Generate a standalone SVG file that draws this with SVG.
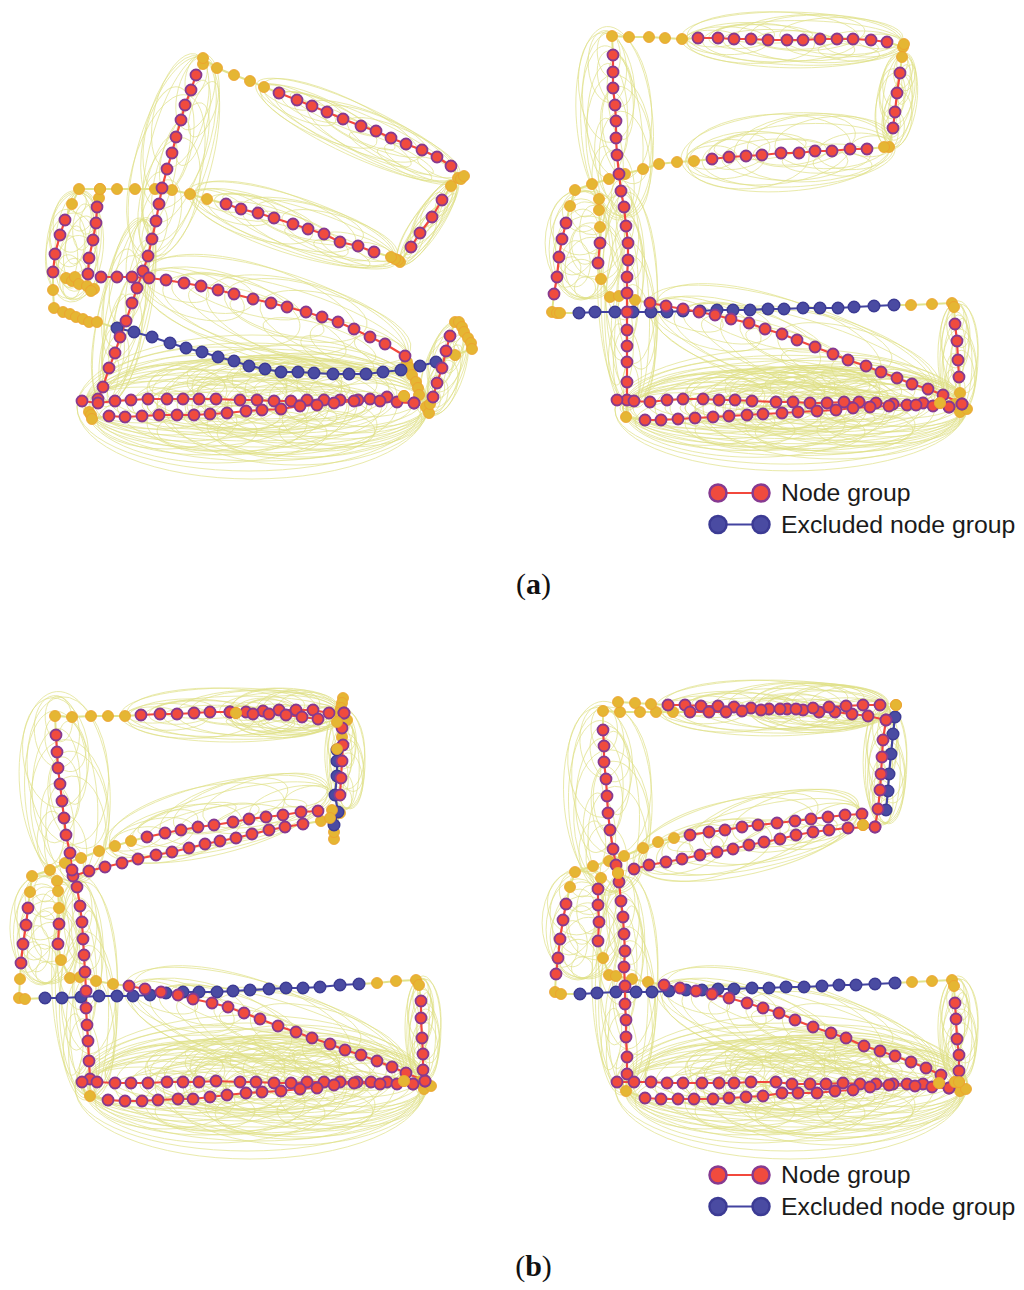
<svg xmlns="http://www.w3.org/2000/svg" width="1024" height="1290" viewBox="0 0 1024 1290">
<style>
.arc ellipse{fill:none;stroke:#e0e184;stroke-width:1;opacity:.68;vector-effect:non-scaling-stroke}
polyline{fill:none}
.lg{stroke:#e2e38c;stroke-width:2}
.lr{stroke:#f2483c;stroke-width:2.2}
.lb{stroke:#4243a0;stroke-width:2.2}
.ng{stroke:none;marker:url(#mg)}
.nr{stroke:none;marker:url(#mr)}
.nb{stroke:none;marker:url(#mb)}
.lt{font:24.800px "Liberation Sans",Arial,sans-serif;fill:#1a1a1a}
.cap{font:30px "Liberation Serif","Times New Roman",serif;fill:#111}
</style>
<defs>
<marker id="mg" markerUnits="userSpaceOnUse" markerWidth="16" markerHeight="16" viewBox="-8 -8 16 16"><circle r="5.500" fill="#e5b633" stroke="#ee9f2e" stroke-width=".8"/></marker>
<marker id="mr" markerUnits="userSpaceOnUse" markerWidth="16" markerHeight="16" viewBox="-8 -8 16 16"><circle r="5.500" fill="#f04b3e" stroke="#863a91" stroke-width="1.800"/></marker>
<marker id="mb" markerUnits="userSpaceOnUse" markerWidth="16" markerHeight="16" viewBox="-8 -8 16 16"><circle r="5.800" fill="#4a4ba2" stroke="#3c3b94" stroke-width="1.400"/></marker>
<g id="lp" class="arc"><ellipse cx="-4" rx="100" ry="30"/><ellipse cx="8" cy="3" rx="92" ry="24"/><ellipse cx="-20" cy="-3" rx="78" ry="27"/><ellipse cx="22" cy="-2" rx="75" ry="26"/><ellipse cx="-40" cy="4" rx="58" ry="22"/><ellipse cx="42" cy="-5" rx="56" ry="20"/><ellipse cx="-62" cy="2" rx="38" ry="15"/><ellipse cx="62" cy="3" rx="36" ry="14"/><ellipse cx="-5" cy="6" rx="60" ry="16" transform="rotate(4)"/><ellipse cx="12" cy="-7" rx="52" ry="19" transform="rotate(-4)"/><ellipse cx="-28" cy="-6" rx="44" ry="10"/><ellipse cx="34" cy="7" rx="42" ry="11"/><ellipse cx="-75" rx="24" ry="9"/><ellipse cx="78" rx="20" ry="8"/><ellipse rx="35" ry="10"/><ellipse cx="-48" cy="-8" rx="30" ry="13" transform="rotate(-6)"/><ellipse cx="50" cy="8" rx="28" ry="9" transform="rotate(5)"/></g>
<g id="bt" class="arc"><ellipse cx="-5" cy="2" rx="175" ry="72"/><ellipse cx="-8" cy="2" rx="172" ry="64"/><ellipse cx="3" rx="170" ry="56"/><ellipse rx="168" ry="48"/><ellipse cx="3" rx="165" ry="42"/><ellipse cx="-5" rx="160" ry="36"/><ellipse cx="40" rx="132" ry="60"/><ellipse cx="50" rx="122" ry="52"/><ellipse cx="60" rx="112" ry="44"/><ellipse cx="70" rx="102" ry="40"/><ellipse cx="85" rx="87" ry="34"/><ellipse cx="100" rx="72" ry="28"/><ellipse cx="115" rx="57" ry="22"/><ellipse cx="-40" rx="132" ry="58"/><ellipse cx="-50" rx="122" ry="50"/><ellipse cx="-60" rx="112" ry="42"/><ellipse cx="-70" rx="102" ry="36"/><ellipse cx="-85" rx="87" ry="30"/><ellipse cx="-100" rx="72" ry="24"/><ellipse cx="-115" rx="57" ry="18"/><ellipse cx="20" rx="120" ry="50"/><ellipse cx="-20" rx="120" ry="46"/><ellipse cx="30" rx="95" ry="38"/><ellipse cx="-30" rx="95" ry="32"/><ellipse cx="10" rx="80" ry="30"/><ellipse cx="-10" rx="70" ry="24"/><ellipse cx="40" rx="70" ry="22"/><ellipse cx="-50" rx="60" ry="20"/><ellipse cx="60" rx="50" ry="16"/><ellipse cx="-70" rx="45" ry="14"/><ellipse cx="20" rx="50" ry="16"/><ellipse rx="100" ry="18"/><ellipse rx="130" ry="25"/><ellipse cx="30" rx="140" ry="32"/><ellipse cx="-30" rx="145" ry="28"/><ellipse cx="-90" cy="-14" rx="60" ry="26"/><ellipse cx="-40" cy="-16" rx="70" ry="30"/><ellipse cx="10" cy="-18" rx="75" ry="32"/><ellipse cx="60" cy="-16" rx="72" ry="30"/><ellipse cx="110" cy="-12" rx="58" ry="24"/><ellipse cx="-20" cy="-22" rx="50" ry="20"/><ellipse cx="30" cy="-24" rx="55" ry="22"/><ellipse cx="80" cy="-20" rx="40" ry="18"/><ellipse cx="-70" cy="-20" rx="38" ry="16"/><ellipse cx="5" cy="-28" rx="35" ry="14"/><ellipse cx="50" cy="-30" rx="32" ry="13"/><ellipse cx="-90" cy="16" rx="70" ry="28"/><ellipse cx="-30" cy="18" rx="80" ry="32"/><ellipse cx="35" cy="20" rx="85" ry="34"/><ellipse cx="95" cy="14" rx="70" ry="28"/><ellipse cx="-50" cy="26" rx="50" ry="20"/><ellipse cx="15" cy="28" rx="55" ry="22"/><ellipse cx="70" cy="26" rx="48" ry="20"/><ellipse cx="-60" cy="-10" rx="90" ry="34"/><ellipse cx="-10" cy="-12" rx="95" ry="36"/><ellipse cx="40" cy="-10" rx="100" ry="38"/><ellipse cx="90" cy="-8" rx="78" ry="30"/><ellipse cx="-30" cy="-32" rx="40" ry="12"/><ellipse cx="25" cy="-36" rx="42" ry="12"/><ellipse cx="70" cy="-30" rx="36" ry="12"/><ellipse cx="-5" cy="-14" rx="55" ry="16"/><ellipse cx="45" cy="-16" rx="48" ry="14"/><ellipse cx="-45" cy="-12" rx="46" ry="14"/><ellipse cx="20" cy="12" rx="60" ry="16"/><ellipse cx="-25" cy="12" rx="48" ry="14"/></g>
<polyline id="ag1" points="196,75 203,64 203,58 217,68 234,75 250,81 264,87 279,93"/>
<polyline id="ag2" points="451,166 458,178 461,179 464,176 451,186 442,200"/>
<polyline id="ag3" points="411,247 400,262 398,260 395,259 391,257 374,252"/>
<polyline id="ag4" points="226,204 207,199 190,194 172,190 155,189 135,189 117,189 100,189 79,189 72,204 65,220"/>
<polyline id="ag5" points="53,272 53,290 54,308 63,312 70,314 76,317 83,319 89,322 97,322 117,328"/>
<polyline id="ag6" points="97,207 99,198 100,189"/>
<polyline id="ag7" points="88,274 66,278 72,281 75,277 79,284 87,286 94,289 91,291 101,277"/>
<polyline id="ag8" points="405,356 407,362 410,368 412,375 416,382 418,388 419,395 426,407 429,413 430,404 433,397"/>
<polyline id="ag9" points="450,336 455,322 459,322 462,327 464,332 468,338 471,343 472,349 455,355 436,362"/>
<polyline id="ag10" points="98,403 89,412 91,415 92,419 109,416"/>
<polyline id="ab1" points="117,328 134,332 152,337 170,343 186,348 202,352 218,357 234,361 249,366 265,369 281,372 298,372 314,373 333,374 349,374 366,374 383,372 401,370 420,366 436,362"/>
<polyline id="ar1" points="279,93 297,100 312,106 327,112 343,119 361,126 376,131 391,138 406,144 422,150 437,157 451,166"/>
<polyline id="ar2" points="442,200 432,217 420,233 411,247"/>
<polyline id="ar3" points="374,252 358,246 340,242 324,234 308,229 293,224 274,218 258,213 241,209 226,204"/>
<polyline id="ar4" points="65,220 60,235 55,254 53,272"/>
<polyline id="ar5" points="97,207 96,223 93,240 89,258 88,274"/>
<polyline id="ar6" points="196,75 191,90 185,105 181,120 176,137 172,153 167,169 162,188 159,204 156,221 152,239 148,256 143,271 137,288 132,303 126,321 120,337 115,353 109,368 103,387 98,399"/>
<polyline id="ar7" points="101,277 117,277 132,277 149,278 166,280 184,283 201,286 218,290 234,294 253,299 271,303 287,307 306,312 322,317 338,322 354,329 370,337 385,344 405,356"/>
<polyline id="ar8" points="82,401 98,403 115,401 131,400 148,399 167,399 183,399 199,399 216,399 240,400 257,400 274,401 291,401 307,400 324,400 340,400 358,400 370,399 387,397 397,402 414,403"/>
<polyline id="ar9" points="109,416 125,417 142,416 159,415 177,415 194,415 210,414 227,413 246,411 262,410 281,409 300,406 317,405 334,403 354,401 380,401 414,403"/>
<polyline id="ar10" points="433,397 437,383 442,368 446,351 450,336"/>
<polyline id="bg1" points="613,55 612,36 629,37 649,37 665,38 682,39 698,38"/>
<polyline id="bg2" points="887,42 903,47 904,44 902,57 900,73"/>
<polyline id="bg3" points="893,128 889,147 884,147 867,149"/>
<polyline id="bg4" points="712,159 694,161 677,162 659,164 643,169 625,174 609,179 592,184 575,190 570,206 566,223"/>
<polyline id="bg5" points="554,294 552,312 557,313 560,313 579,313"/>
<polyline id="bg6" points="599,199 599,210 600,227 600,243"/>
<polyline id="bg7" points="598,263 601,279 610,297 619,296 635,300 650,303"/>
<polyline id="bg8" points="894,305 911,305 932,304 952,303 954,307 955,324"/>
<polyline id="bg9" points="959,377 960,393 962,404 960,412 967,409 955,404"/>
<polyline id="bg10" points="627,400 626,417 645,420"/>
<polyline id="bb1" points="579,313 595,312 615,312 633,312 651,312 667,312 683,311 700,311 717,310 733,310 750,310 768,309 784,309 803,308 820,308 838,308 854,307 874,306 894,305"/>
<polyline id="br1" points="698,38 718,38 734,39 751,39 768,40 787,40 803,40 820,39 837,39 853,39 871,40 887,42"/>
<polyline id="br2" points="900,73 897,93 895,112 893,128"/>
<polyline id="br3" points="867,149 850,149 832,151 815,151 799,153 781,153 762,155 746,156 729,157 712,159"/>
<polyline id="br4" points="566,223 562,239 559,257 557,277 554,294"/>
<polyline id="br5" points="600,243 598,263"/>
<polyline id="br6" points="613,55 613,72 613,88 615,105 616,121 616,138 617,155 619,174 621,191 624,207 626,226 628,243 628,260 627,277 627,293 627,312 627,330 627,346 627,362 627,382 627,400"/>
<polyline id="br7" points="617,400 634,401 650,402 667,400 683,399 703,399 719,400 735,400 752,401 776,402 793,402 810,403 827,403 844,402 859,402 876,403 893,404 907,405 923,403 933,406 949,407 962,404"/>
<polyline id="br8" points="645,420 661,420 678,419 695,418 713,417 729,416 747,415 763,414 782,413 798,412 817,411 836,410 853,408 870,407 889,406 916,405 949,407"/>
<polyline id="br9" points="650,303 666,306 683,309 699,312 715,315 731,319 749,323 765,329 782,334 797,340 815,347 833,354 848,360 866,366 881,372 897,378 912,384 928,389 943,395 962,404"/>
<polyline id="br10" points="955,324 957,341 958,360 959,377"/>
<polyline id="cg1" points="56,735 55,716 72,717 91,716 108,716 125,716 141,715"/>
<polyline id="cg2" points="343,698 342,703 341,708 339,713 347,720 342,737"/>
<polyline id="cg3" points="334,839 334,832 340,813 321,821 303,824"/>
<polyline id="cg4" points="147,837 131,841 115,846 99,851 81,858 65,863 50,870 32,876 30,892 28,908"/>
<polyline id="cg5" points="21,963 20,979 19,998 25,999 45,998"/>
<polyline id="cg6" points="57,881 58,891 59,908 59,924"/>
<polyline id="cg7" points="58,944 61,960 70,978 80,977 96,981 113,984 129,986"/>
<polyline id="cg8" points="359,984 377,983 396,981 416,980 419,985 421,1001"/>
<polyline id="cg9" points="423,1070 425,1081 424,1089 431,1086 419,1082"/>
<polyline id="cg10" points="90,1079 90,1096 108,1100"/>
<polyline id="cb1" points="337,750 337,761 337,776 335,795 338,812 334,825"/>
<polyline id="cb2" points="45,998 62,998 81,997 99,996 117,996 133,996 150,995 166,993 183,992 199,992 217,992 233,991 250,990 269,989 286,988 303,988 320,987 340,985 359,984"/>
<polyline id="cr1" points="141,715 160,714 177,714 194,713 210,712 230,712 246,712 263,711 279,710 296,710 313,710 329,713 344,713"/>
<polyline id="cr2" points="230,712 253,714 269,714 286,715 302,717 318,719"/>
<polyline id="cr3" points="344,713 342,728 343,745 342,761 341,778 340,795"/>
<polyline id="cr4" points="318,811 301,812 283,815 266,817 249,819 233,822 214,825 198,827 181,830 165,833 147,837"/>
<polyline id="cr5" points="303,824 285,827 269,830 252,834 236,838 220,841 205,844 189,848 172,852 156,855 138,859 122,863 105,867 89,871 73,876"/>
<polyline id="cr6" points="56,735 57,752 58,768 60,784 62,801 64,818 66,835 70,853 72,870 77,887 80,906 82,922 83,939 84,955 85,972 86,991 86,1008 87,1025 88,1041 89,1061 90,1079"/>
<polyline id="cr7" points="28,908 26,925 23,944 21,963"/>
<polyline id="cr8" points="59,924 58,944"/>
<polyline id="cr9" points="129,986 145,989 161,992 178,995 193,999 212,1003 228,1007 244,1013 260,1019 278,1026 296,1032 312,1038 330,1044 345,1050 361,1055 377,1061 392,1067 406,1073 425,1081"/>
<polyline id="cr10" points="82,1082 97,1082 115,1083 131,1083 148,1083 167,1082 183,1082 199,1082 216,1081 240,1082 256,1082 274,1083 291,1083 307,1082 324,1082 340,1082 357,1082 371,1082 387,1082 397,1084 413,1084 425,1081"/>
<polyline id="cr11" points="108,1100 125,1101 142,1101 158,1100 178,1099 193,1099 210,1097 227,1095 246,1093 262,1092 281,1091 300,1089 317,1088 334,1085 354,1083 380,1084 413,1084"/>
<polyline id="cr12" points="421,1001 421,1018 422,1038 423,1054 423,1070"/>
<polyline id="dg1" points="603,730 603,711 620,712 640,712 656,712 673,712 690,712"/>
<polyline id="dg2" points="618,702 635,703 651,704 668,705"/>
<polyline id="dg3" points="690,835 674,838 658,842 643,848 624,856 609,861 593,866 575,872 570,887 566,904"/>
<polyline id="dg4" points="556,974 555,992 561,994 580,994"/>
<polyline id="dg5" points="598,889 601,878"/>
<polyline id="dg6" points="598,941 603,958 609,975 616,976 632,979 648,982 664,985"/>
<polyline id="dg7" points="895,983 912,982 932,981 952,980 954,986 955,1003"/>
<polyline id="dg8" points="959,1071 959,1082 955,1082 960,1091 966,1089"/>
<polyline id="dg9" points="627,1074 626,1091 645,1098"/>
<polyline id="db1" points="895,717 893,734 891,754 889,774 888,791 886,810"/>
<polyline id="db2" points="580,994 597,993 616,992 636,992 652,992 669,991 686,990 702,990 718,989 734,989 752,988 769,988 786,987 804,987 822,986 839,985 856,985 875,984 895,983"/>
<polyline id="dr1" points="668,705 685,705 701,706 718,706 734,707 751,708 769,709 787,709 803,710 819,712 835,712 852,714 868,716 886,720"/>
<polyline id="dr2" points="690,712 709,712 726,712 742,711 761,710 780,709 796,709 813,708 829,707 846,706 863,705 880,705"/>
<polyline id="dr3" points="886,720 883,740 882,757 881,774 880,790 878,809 875,827"/>
<polyline id="dr4" points="862,814 845,815 828,817 811,819 795,821 777,823 758,825 742,827 725,830 709,832 690,835"/>
<polyline id="dr5" points="634,869 649,865 666,862 682,859 700,855 717,852 733,849 749,845 764,842 780,839 796,835 813,832 829,830 848,828 875,827"/>
<polyline id="dr6" points="566,904 563,920 560,939 558,958 556,974"/>
<polyline id="dr7" points="598,889 598,905 599,922 598,941"/>
<polyline id="dr8" points="603,730 604,746 604,762 606,779 607,796 608,813 610,830 613,849 616,865 619,882 621,901 623,917 624,934 625,951 624,967 625,986 625,1004 626,1020 626,1037 627,1057 627,1074"/>
<polyline id="dr9" points="617,1082 634,1082 651,1082 667,1083 683,1083 702,1083 719,1083 734,1083 751,1082 776,1082 792,1084 810,1084 826,1084 843,1083 860,1084 876,1084 893,1084 907,1084 923,1084 932,1087 949,1088"/>
<polyline id="dr10" points="645,1098 661,1099 678,1099 694,1099 713,1099 729,1098 746,1097 763,1096 782,1093 798,1093 817,1093 835,1091 853,1090 870,1087 889,1085 915,1086 949,1088"/>
<polyline id="dr11" points="664,985 680,988 696,991 712,994 729,998 747,1003 763,1008 779,1013 795,1020 813,1027 831,1033 846,1038 864,1046 880,1051 895,1056 911,1062 926,1068 941,1075"/>
<polyline id="dr12" points="955,1003 956,1019 957,1039 959,1055 959,1071"/>
</defs>

<g id="arcs">
<g id="arcs-a">
<use href="#lp" transform="translate(360 132) rotate(25) scale(1.1 .85)"/>
<use href="#lp" transform="translate(428 222) rotate(-56) scale(.5 .47)"/>
<use href="#lp" transform="translate(295 226) rotate(18) scale(1.08 .95)"/>
<use href="#lp" transform="translate(175 155) rotate(-75) scale(1.05 1.27)"/>
<use href="#lp" transform="translate(75 245) rotate(-85) scale(.55 .95)"/>
<use href="#lp" transform="translate(125 310) rotate(-78) scale(.95 .85)"/>
<use href="#lp" transform="translate(277 317) rotate(17) scale(1.4 1.5)"/>
<use href="#bt" transform="translate(257 405)"/>
<use href="#lp" transform="translate(445 368) rotate(-72) scale(.48 .67)"/>
</g>
<g id="arcs-b">
<use href="#lp" transform="translate(795 40) rotate(1) scale(1.1 .93)"/>
<use href="#lp" transform="translate(897 100) rotate(-82) scale(.48 .67)"/>
<use href="#lp" transform="translate(790 152) rotate(-4) scale(1.05 1.3)"/>
<use href="#lp" transform="translate(615 125) rotate(85) scale(.95 1.27)"/>
<use href="#lp" transform="translate(585 245) rotate(90) scale(.55 1.33)"/>
<use href="#lp" transform="translate(628 300) rotate(88) scale(1.1 1)"/>
<use href="#lp" transform="translate(796 349) rotate(17.4) scale(1.5 1.5)"/>
<use href="#bt" transform="translate(795 408) scale(1 .85)"/>
<use href="#lp" transform="translate(958 358) rotate(90) scale(.55 .67)"/>
</g>
<g id="arcs-c">
<use href="#lp" transform="translate(235 715) scale(1.1 .9)"/>
<use href="#lp" transform="translate(285 713) scale(.55 .83)"/>
<use href="#lp" transform="translate(345 760) rotate(88) scale(.5 .67)"/>
<use href="#lp" transform="translate(220 818) rotate(-14) scale(1.15 1.17)"/>
<use href="#lp" transform="translate(65 790) rotate(85) scale(.95 1.5)"/>
<use href="#lp" transform="translate(45 930) rotate(90) scale(.55 1.17)"/>
<use href="#lp" transform="translate(85 990) rotate(88) scale(1.1 1.1)"/>
<use href="#lp" transform="translate(268 1030) rotate(17.4) scale(1.45 1.5)"/>
<use href="#bt" transform="translate(255 1085)"/>
<use href="#lp" transform="translate(423 1030) rotate(90) scale(.52 .6)"/>
</g>
<g id="arcs-d">
<use href="#lp" transform="translate(775 708) scale(1.15 .93)"/>
<use href="#lp" transform="translate(820 708) scale(.7 .83)"/>
<use href="#lp" transform="translate(885 765) rotate(90) scale(.6 .73)"/>
<use href="#lp" transform="translate(750 835) rotate(-13) scale(1.15 1.27)"/>
<use href="#lp" transform="translate(608 800) rotate(87) scale(.95 1.47)"/>
<use href="#lp" transform="translate(582 925) rotate(90) scale(.55 1.33)"/>
<use href="#lp" transform="translate(625 985) rotate(90) scale(1.1 1.1)"/>
<use href="#lp" transform="translate(800 1030) rotate(17.4) scale(1.45 1.5)"/>
<use href="#bt" transform="translate(795 1085)"/>
<use href="#lp" transform="translate(958 1030) rotate(90) scale(.52 .67)"/>
</g>
</g>

<g id="connectors">
<g class="lg"><use href="#ag1"/><use href="#ag2"/><use href="#ag3"/><use href="#ag4"/><use href="#ag5"/><use href="#ag6"/><use href="#ag7"/><use href="#ag8"/><use href="#ag9"/><use href="#ag10"/><use href="#bg1"/><use href="#bg2"/><use href="#bg3"/><use href="#bg4"/><use href="#bg5"/><use href="#bg6"/><use href="#bg7"/><use href="#bg8"/><use href="#bg9"/><use href="#bg10"/><use href="#cg1"/><use href="#cg2"/><use href="#cg3"/><use href="#cg4"/><use href="#cg5"/><use href="#cg6"/><use href="#cg7"/><use href="#cg8"/><use href="#cg9"/><use href="#cg10"/><use href="#dg1"/><use href="#dg2"/><use href="#dg3"/><use href="#dg4"/><use href="#dg5"/><use href="#dg6"/><use href="#dg7"/><use href="#dg8"/><use href="#dg9"/></g>
<g class="lb"><use href="#ab1"/><use href="#bb1"/><use href="#cb1"/><use href="#cb2"/><use href="#db1"/><use href="#db2"/></g>
<g class="lr"><use href="#ar1"/><use href="#ar2"/><use href="#ar3"/><use href="#ar4"/><use href="#ar5"/><use href="#ar6"/><use href="#ar7"/><use href="#ar8"/><use href="#ar9"/><use href="#ar10"/><use href="#br1"/><use href="#br2"/><use href="#br3"/><use href="#br4"/><use href="#br5"/><use href="#br6"/><use href="#br7"/><use href="#br8"/><use href="#br9"/><use href="#br10"/><use href="#cr1"/><use href="#cr2"/><use href="#cr3"/><use href="#cr4"/><use href="#cr5"/><use href="#cr6"/><use href="#cr7"/><use href="#cr8"/><use href="#cr9"/><use href="#cr10"/><use href="#cr11"/><use href="#cr12"/><use href="#dr1"/><use href="#dr2"/><use href="#dr3"/><use href="#dr4"/><use href="#dr5"/><use href="#dr6"/><use href="#dr7"/><use href="#dr8"/><use href="#dr9"/><use href="#dr10"/><use href="#dr11"/><use href="#dr12"/></g>
</g>

<g id="nodes-gold" class="ng"><use href="#ag1"/><use href="#ag2"/><use href="#ag3"/><use href="#ag4"/><use href="#ag5"/><use href="#ag6"/><use href="#ag7"/><use href="#ag8"/><use href="#ag9"/><use href="#ag10"/><use href="#bg1"/><use href="#bg2"/><use href="#bg3"/><use href="#bg4"/><use href="#bg5"/><use href="#bg6"/><use href="#bg7"/><use href="#bg8"/><use href="#bg9"/><use href="#bg10"/><use href="#cg1"/><use href="#cg2"/><use href="#cg3"/><use href="#cg4"/><use href="#cg5"/><use href="#cg6"/><use href="#cg7"/><use href="#cg8"/><use href="#cg9"/><use href="#cg10"/><use href="#dg1"/><use href="#dg2"/><use href="#dg3"/><use href="#dg4"/><use href="#dg5"/><use href="#dg6"/><use href="#dg7"/><use href="#dg8"/><use href="#dg9"/></g>
<g id="nodes-excluded" class="nb"><use href="#ab1"/><use href="#bb1"/><use href="#cb1"/><use href="#cb2"/><use href="#db1"/><use href="#db2"/></g>
<g id="nodes-group" class="nr"><use href="#ar1"/><use href="#ar2"/><use href="#ar3"/><use href="#ar4"/><use href="#ar5"/><use href="#ar6"/><use href="#ar7"/><use href="#ar8"/><use href="#ar9"/><use href="#ar10"/><use href="#br1"/><use href="#br2"/><use href="#br3"/><use href="#br4"/><use href="#br5"/><use href="#br6"/><use href="#br7"/><use href="#br8"/><use href="#br9"/><use href="#br10"/><use href="#cr1"/><use href="#cr2"/><use href="#cr3"/><use href="#cr4"/><use href="#cr5"/><use href="#cr6"/><use href="#cr7"/><use href="#cr8"/><use href="#cr9"/><use href="#cr10"/><use href="#cr11"/><use href="#cr12"/><use href="#dr1"/><use href="#dr2"/><use href="#dr3"/><use href="#dr4"/><use href="#dr5"/><use href="#dr6"/><use href="#dr7"/><use href="#dr8"/><use href="#dr9"/><use href="#dr10"/><use href="#dr11"/><use href="#dr12"/></g>
<g id="nodes-gold-top"><polyline class="ng" points="404,396 404,396"/><polyline class="ng" points="940,403 940,403"/><polyline class="ng" points="236,713 236,713"/><polyline class="ng" points="337,722 337,749 332,810 330,818"/><polyline class="ng" points="404,1081 404,1081"/><polyline class="ng" points="863,825 863,825"/><polyline class="ng" points="618,873 618,873"/><polyline class="ng" points="896,705 896,705"/><polyline class="ng" points="939,1083 939,1083"/><polyline class="ng" points="955,1082 959,1082"/></g>

<g id="legend-a">
<line x1="718" y1="493" x2="761" y2="493" stroke="#f2483c" stroke-width="2"/><line x1="718" y1="524.500" x2="761" y2="524.500" stroke="#4243a0" stroke-width="2"/>
<g id="legend-a-n1"><circle cx="718" cy="493" r="8.500" fill="#f04b3e" stroke="#863a91" stroke-width="2.500"/></g>
<g id="legend-a-n2"><circle cx="761" cy="493" r="8.500" fill="#f04b3e" stroke="#863a91" stroke-width="2.500"/></g>
<g id="legend-a-n3"><circle cx="718" cy="524.500" r="8.500" fill="#4a4ba2" stroke="#3c3b94" stroke-width="2.500"/></g>
<g id="legend-a-n4"><circle cx="761" cy="524.500" r="8.500" fill="#4a4ba2" stroke="#3c3b94" stroke-width="2.500"/></g>
<text class="lt" x="781" y="501">Node group</text><text class="lt" x="781" y="533">Excluded node group</text>
</g>
<g id="legend-b">
<line x1="718" y1="1175" x2="761" y2="1175" stroke="#f2483c" stroke-width="2"/><line x1="718" y1="1206.500" x2="761" y2="1206.500" stroke="#4243a0" stroke-width="2"/>
<g id="legend-b-n1"><circle cx="718" cy="1175" r="8.500" fill="#f04b3e" stroke="#863a91" stroke-width="2.500"/></g>
<g id="legend-b-n2"><circle cx="761" cy="1175" r="8.500" fill="#f04b3e" stroke="#863a91" stroke-width="2.500"/></g>
<g id="legend-b-n3"><circle cx="718" cy="1206.500" r="8.500" fill="#4a4ba2" stroke="#3c3b94" stroke-width="2.500"/></g>
<g id="legend-b-n4"><circle cx="761" cy="1206.500" r="8.500" fill="#4a4ba2" stroke="#3c3b94" stroke-width="2.500"/></g>
<text class="lt" x="781" y="1183">Node group</text><text class="lt" x="781" y="1215">Excluded node group</text>
</g>
<text class="cap" x="533.500" y="594" text-anchor="middle">(<tspan font-weight="bold">a</tspan>)</text>
<text class="cap" x="533.500" y="1276" text-anchor="middle">(<tspan font-weight="bold">b</tspan>)</text>
</svg>
